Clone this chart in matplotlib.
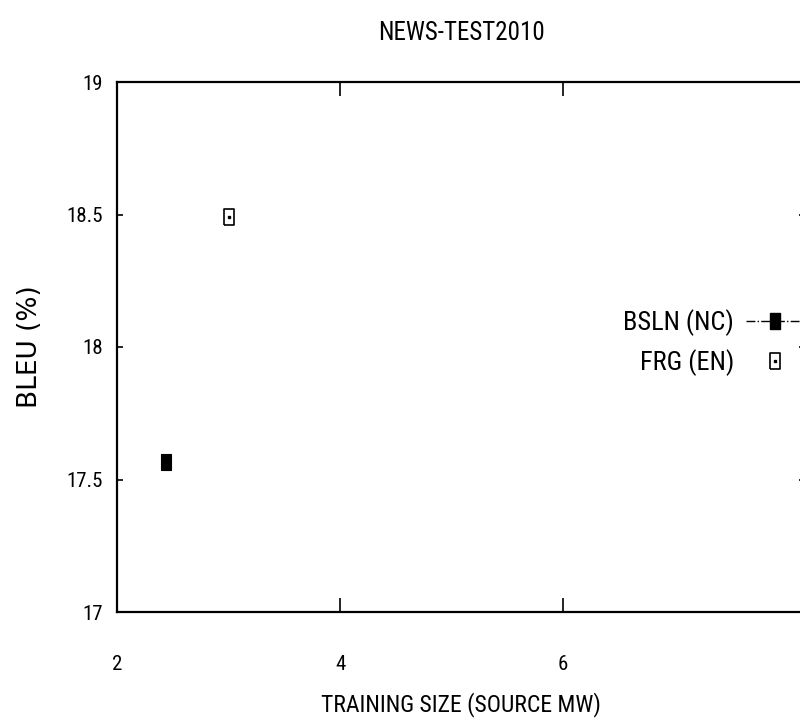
import matplotlib
matplotlib.use("Agg")
import matplotlib.pyplot as plt
from matplotlib.lines import Line2D

# Data
bsln_x = [2.44]
bsln_y = [17.565]
frg_x = [3.0]
frg_y = [18.49]
series_labels = ["BSLN (NC)", "FRG (EN)"]
x_ticks = [2, 4, 6]
y_ticks = [17, 17.5, 18, 18.5, 19]
y_tick_labels = ["17", "17.5", "18", "18.5", "19"]

narrow = ["Liberation Sans Narrow", "Roboto Condensed", "DejaVu Sans Condensed",
          "Liberation Sans"]

fig = plt.figure(figsize=(8.0, 7.25), dpi=100)
ax = fig.add_axes([117 / 800, 113 / 725, 688 / 800, 530 / 725])

# tall rectangle markers
rect = [(-0.3, -0.5), (0.3, -0.5), (0.3, 0.5), (-0.3, 0.5), (-0.3, -0.5)]

ax.plot(bsln_x, bsln_y, linestyle="-.", color="black", linewidth=1.0,
        marker=rect, markersize=12, markerfacecolor="black",
        markeredgecolor="black", markeredgewidth=0.8)
ax.plot(frg_x, frg_y, linestyle="none", marker=rect, markersize=12,
        markerfacecolor="white", markeredgecolor="black", markeredgewidth=1.2)
ax.plot(frg_x, frg_y, linestyle="none", marker="s", markersize=1.5,
        color="black")

ax.set_xlim(2, 8.17)
ax.set_ylim(17, 19)
ax.set_xticks(x_ticks)
ax.set_xticklabels([str(t) for t in x_ticks])
ax.set_yticks(y_ticks)
ax.set_yticklabels(y_tick_labels)

for s in ax.spines.values():
    s.set_linewidth(1.6)

ax.tick_params(axis="x", direction="in", length=10, width=1.2, pad=31,
               top=True, bottom=True, labelsize=15)
ax.tick_params(axis="y", direction="in", length=4.5, width=1.2, pad=10,
               left=True, right=True, labelsize=15)
for lab in ax.get_xticklabels() + ax.get_yticklabels():
    lab.set_family(narrow)
    lab.set_stretch("condensed")

ax.set_title("NEWS-TEST2010", family=narrow, fontsize=18, stretch="condensed",
             y=1.0, pad=30)
ax.set_xlabel("TRAINING SIZE (SOURCE MW)", family=narrow, fontsize=17,
              stretch="condensed")
ax.xaxis.set_label_coords(0.5, -0.175)
ax.xaxis.label.set_verticalalignment("center")
ax.set_ylabel("BLEU (%)", family="DejaVu Sans", fontsize=19)
ax.yaxis.set_label_coords(-0.126, 0.5)
ax.yaxis.label.set_verticalalignment("center")

h_bsln = Line2D([], [], linestyle="-.", color="black", linewidth=1.0,
                marker=rect, markersize=12, markerfacecolor="black",
                markeredgecolor="black")
h_frg_box = Line2D([], [], linestyle="none", marker=rect, markersize=12,
                   markerfacecolor="white", markeredgecolor="black",
                   markeredgewidth=1.2)
h_frg_dot = Line2D([], [], linestyle="none", marker="s", markersize=1.5,
                   color="black")
leg = fig.legend([h_bsln, (h_frg_box, h_frg_dot)], series_labels,
                 loc="upper right", bbox_to_anchor=(817 / 800, 1 - 296 / 725),
                 markerfirst=False, frameon=False, handlelength=2.2,
                 handletextpad=0.45, labelspacing=0.5,
                 prop={"family": narrow, "size": 19, "stretch": "condensed"},
                 borderpad=0)

fig.savefig("out.png", dpi=100)
